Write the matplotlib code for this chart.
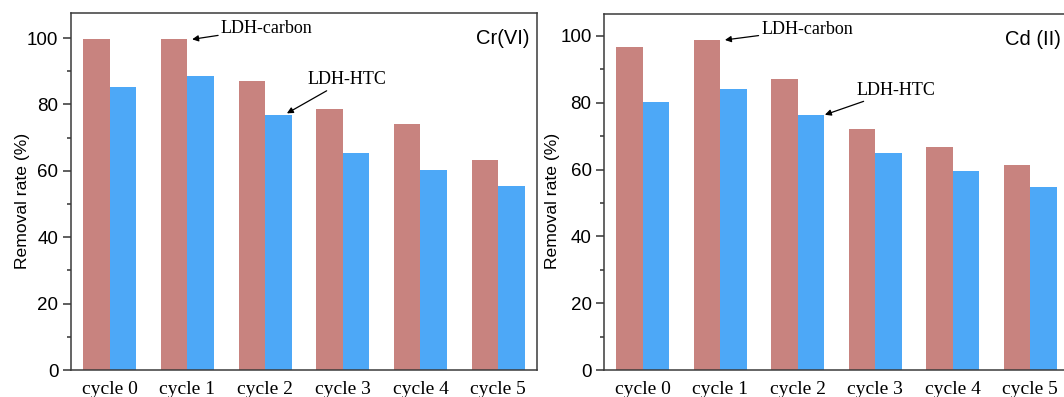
import numpy as np
import matplotlib
matplotlib.use('Agg')
import matplotlib.pyplot as plt
from matplotlib.ticker import MultipleLocator

# data
cycles = ['cycle 0', 'cycle 1', 'cycle 2', 'cycle 3', 'cycle 4', 'cycle 5']
cr_carbon = [99.8, 99.7, 87.0, 78.7, 74.2, 63.2]
cr_htc = [85.3, 88.6, 76.9, 65.3, 60.1, 55.3]
cd_carbon = [96.6, 98.9, 87.1, 72.0, 66.9, 61.4]
cd_htc = [80.1, 84.0, 76.2, 65.0, 59.7, 54.9]

red = '#c8837f'
blue = '#4da8f7'
sans = ['Liberation Sans', 'DejaVu Sans']
serif = ['Liberation Serif', 'DejaVu Serif']

fig = plt.figure(figsize=(10.64, 3.97), dpi=100)
ax1 = fig.add_axes([0.0667, 0.068, 0.438, 0.899])
ax2 = fig.add_axes([0.5677, 0.068, 0.437, 0.897])

w = 0.34
x = np.arange(len(cycles))


def annotate(ax, text, tip, tail):
    ax.annotate(text, xy=tip, xytext=tail, family=serif, fontsize=13,
                va='center', ha='left',
                arrowprops=dict(arrowstyle='-|>', color='black', lw=0.9, mutation_scale=9,
                                shrinkA=0, shrinkB=0))


def draw(ax, carbon, htc, label, top, label_x, carbon_ann, htc_ann):
    ax.bar(x - w / 2, carbon, w, color=red)
    ax.bar(x + w / 2, htc, w, color=blue)
    ax.set_xlim(-0.5, 5.5)
    ax.set_ylim(0, top)
    ax.set_xticks(x)
    ax.set_xticklabels(cycles, family=serif, fontsize=14)
    ax.tick_params(axis='x', length=0, pad=8)
    ax.yaxis.set_major_locator(MultipleLocator(20))
    ax.yaxis.set_minor_locator(MultipleLocator(10))
    ax.tick_params(axis='y', which='major', direction='out', length=5.5, width=1.1,
                   labelsize=13.5, pad=3.5, color='#333333')
    ax.tick_params(axis='y', which='minor', direction='out', length=3, width=1.1,
                   color='#333333')
    for t in ax.get_yticklabels():
        t.set_family(sans)
    for s in ax.spines.values():
        s.set_color('#3a3a3a')
        s.set_linewidth(1.1)
    ax.set_ylabel('Removal rate (%)', family=sans, fontsize=12.6)
    ax.yaxis.set_label_coords(label_x, 0.474)
    ax.text(0.983, 0.955, label, transform=ax.transAxes, ha='right', va='top',
            family=sans, fontsize=14.5)
    annotate(ax, 'LDH-carbon', *carbon_ann)
    annotate(ax, 'LDH-HTC', *htc_ann)


draw(ax1, cr_carbon, cr_htc, 'Cr(VI)', 107.5, -0.088,
     ((1.06, 99.6), (1.43, 103.0)), ((2.28, 77.3), (2.54, 87.5)))
draw(ax2, cd_carbon, cd_htc, 'Cd (II)', 106.6, -0.095,
     ((1.06, 98.8), (1.53, 102.0)), ((2.35, 76.4), (2.76, 83.8)))

fig.savefig('out.png', dpi=100)
